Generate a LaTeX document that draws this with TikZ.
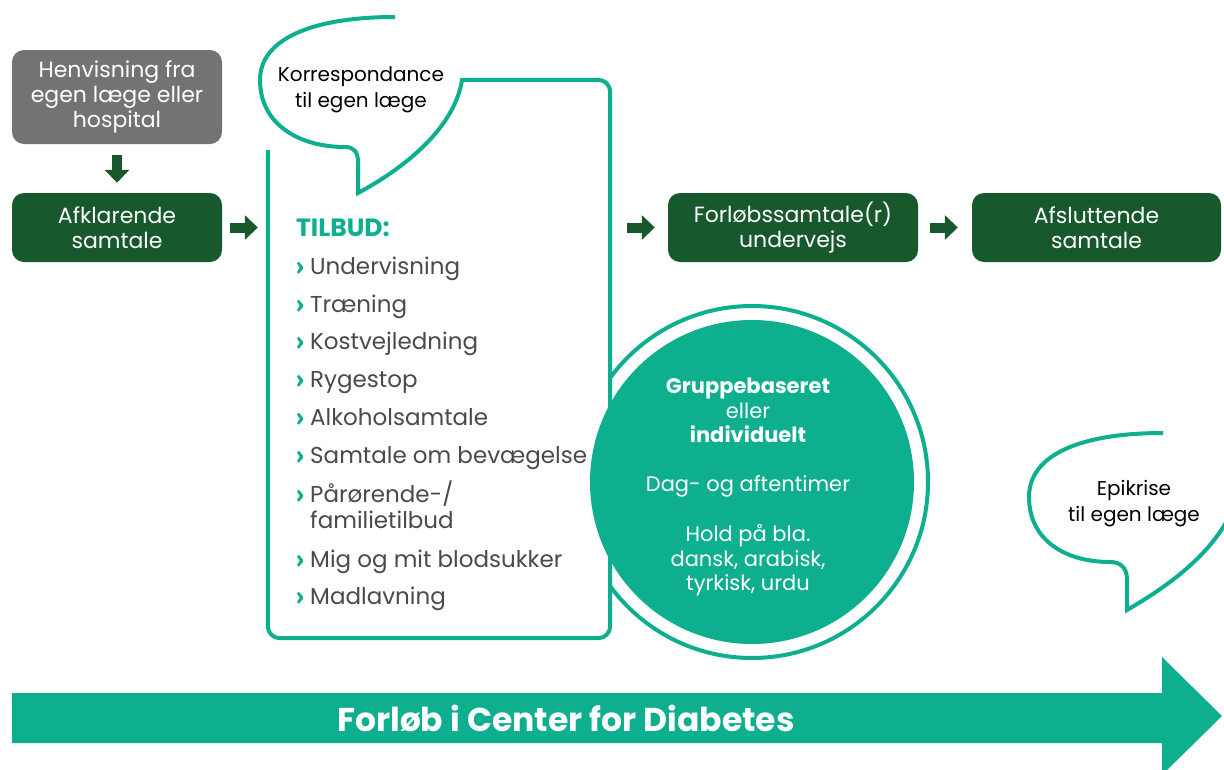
\documentclass[tikz,border=0pt]{standalone}
\usepackage{fontspec}
\setmainfont{Poppins}
\newfontfamily\chevfont{Fira Sans}
\usetikzlibrary{arrows.meta,positioning}
\definecolor{darkgreen}{HTML}{17592D}
\definecolor{tealgreen}{HTML}{0DAF8F}
\definecolor{boxgrey}{HTML}{737373}
\definecolor{listgrey}{HTML}{4A4A4A}
\tikzset{
  stepbox/.style={fill=darkgreen, text=white, rounded corners=12pt,
    minimum width=210pt, minimum height=69pt, inner sep=0pt, align=center,
    font=\fontsize{22}{25}\selectfont},
  blockarrow/.style={draw=darkgreen, line width=10pt, -{Triangle[length=13pt,width=24pt]}},
  tealline/.style={draw=tealgreen, line width=4pt},
  bubbletext/.style={align=center, inner sep=0pt, font=\fontsize{20}{26}\selectfont},
  chevron/.style={anchor=base west, inner sep=0pt, text=tealgreen, font=\chevfont\fontsize{22}{22}\selectfont\bfseries},
  listitem/.style={anchor=base west, inner sep=0pt, text=listgrey, font=\fontsize{23}{23}\selectfont},
}
\begin{document}
\begin{tikzpicture}[x=1pt,y=-1pt]
\useasboundingbox (0,0) rectangle (1224,769);
\clip (0,0) rectangle (1224,769);

% top row
\node[stepbox, fill=boxgrey, minimum height=94pt] (refer) at (117,97) {Henvisning fra\\egen læge eller\\hospital};
\node[stepbox] (afk) at (117,227.5) {Afklarende\\samtale};
\node[stepbox, minimum width=250pt] (forl) at (793,227.5) {Forløbssamtale(r)\\undervejs};
\node[stepbox, minimum width=249pt] (afs) at (1096.5,227.5) {Afsluttende\\samtale};
\node[inner sep=0pt, minimum width=342pt, minimum height=558pt] (tilbud) at (439,359) {};

% ring, box and speech bubble
\draw[tealline, fill=white] (752,482) circle[radius=176];
\fill[white] (tilbud.south west) rectangle (tilbud.north east);
\draw[tealline] (395,17) .. controls (310,17) and (260,40) .. (260,80)
  .. controls (260,125) and (300,147) .. (345,147)
  .. controls (354,147) and (358,152) .. (358,162) -- (358,193)
  .. controls (410,165) and (455,125) .. (462,80)
  [rounded corners=12pt] -- (tilbud.north east) -- (tilbud.south east) -- (tilbud.south west) -- (268,150);
\node[circle, fill=tealgreen, inner sep=0pt, minimum size=324pt] (disk) at (752,482) {};

% bubble to the right
\draw[tealline] (1163,433) .. controls (1080,433) and (1029,455) .. (1029,497)
  .. controls (1029,540) and (1065,562) .. (1110,562)
  .. controls (1121,562) and (1127,568) .. (1127,580) -- (1127,610)
  .. controls (1170,585) and (1210,555) .. (1230,515);

\node[bubbletext] (corr) at (361,90) {Korrespondance\\til egen læge};
\node[bubbletext] (epi) at (1134,503.5) {Epikrise\\til egen læge};

% arrows
\draw[blockarrow, shorten <=11pt, shorten >=10pt] (refer) -- (afk);
\draw[blockarrow, shorten <=8pt, shorten >=10pt] (afk) -- (afk -| tilbud.west);
\draw[blockarrow, shorten <=17pt, shorten >=13pt] (afk -| tilbud.east) -- (forl);
\draw[blockarrow, shorten <=12pt, shorten >=14pt] (forl) -- (afs);

% list
\node[anchor=base west, inner sep=0pt, text=tealgreen, font=\bfseries\fontsize{25}{25}\selectfont] (head) at (296,236) {TILBUD:};
\foreach \yb/\txt [count=\i] in {274/Undervisning, 312/Træning, 349/Kostvejledning, 387/Rygestop,
    425/Alkoholsamtale, 463/Samtale om bevægelse, 502/Pårørende-\slash, 567/Mig og mit blodsukker, 604/Madlavning} {
  \node[chevron] (chev\i) at (296,\yb) {›};
  \node[listitem] (item\i) at (310,\yb) {\txt};
}
\node[listitem] (itemfam) at (310,528) {familietilbud};

% circle text
\node[anchor=north, align=center, inner sep=0pt, text=white, font=\fontsize{21}{24.5}\selectfont] (gruppe) at (748,378)
  {\textbf{Gruppebaseret}\\eller\\\textbf{individuelt}\\[24pt]Dag- og aftentimer\\[26pt]Hold på bla.\\dansk, arabisk,\\tyrkisk, urdu};

% big arrow
\fill[tealgreen] (12,693) -- (1162,693) -- (1162,657) -- (1222,716) -- (1162,775) -- (1162,743) -- (12,743) -- cycle;
\node[text=white, inner sep=0pt, font=\bfseries\fontsize{33}{33}\selectfont] (forloeb) at (566,718) {Forløb i Center for Diabetes};
\end{tikzpicture}
\end{document}
